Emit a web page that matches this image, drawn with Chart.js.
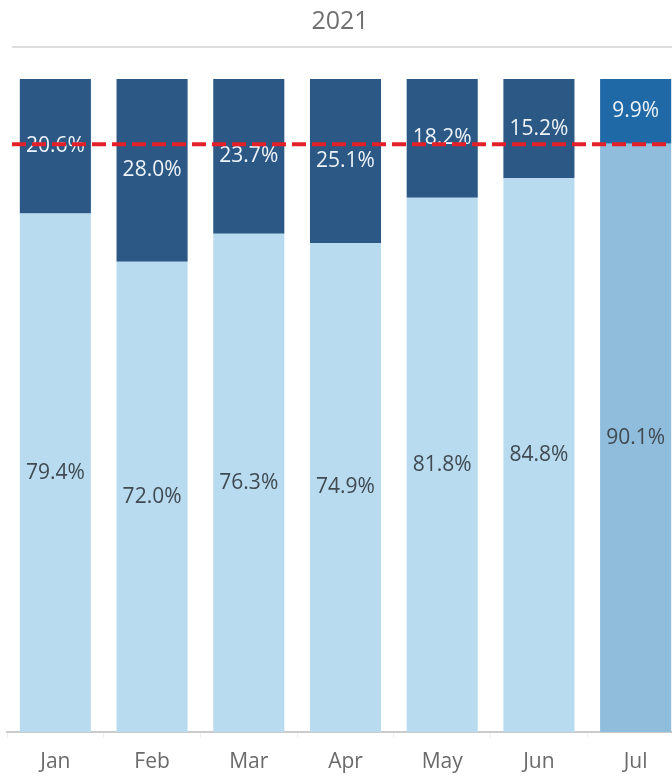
<!DOCTYPE html>
<html lang="en">
<head>
    <meta charset="UTF-8">
    <title>2021</title>
    <style>
        html, body {
            margin: 0;
            padding: 0;
            background: #ffffff;
            overflow: hidden;
        }
        .chart-box {
            position: absolute;
            left: 0;
            top: 0;
            width: 684px;
            height: 777px;
        }
    </style>
</head>
<body>
    <div class="chart-box">
        <canvas id="monthChart"></canvas>
    </div>

    <script src="https://cdn.jsdelivr.net/npm/chart.js@4.4.3/dist/chart.umd.min.js"></script>
    <script>
        // Datos
        const months = ['Jan', 'Feb', 'Mar', 'Apr', 'May', 'Jun', 'Jul'];
        const lowerShare = [79.4, 72.0, 76.3, 74.9, 81.8, 84.8, 90.1];
        const upperShare = [20.6, 28.0, 23.7, 25.1, 18.2, 15.2, 9.9];
        const targetLine = 90;
        const chartTitle = '2021';

        // Jul va resaltado con otros tonos
        const lowerColors = months.map((m, i) => i === months.length - 1 ? '#90bddc' : '#b8dbef');
        const upperColors = months.map((m, i) => i === months.length - 1 ? '#1f6aa6' : '#2b5885');

        const FONT = "'Open Sans', 'Noto Sans', sans-serif";

        const ctx = document.getElementById('monthChart').getContext('2d');
        new Chart(ctx, {
            type: 'bar',
            data: {
                labels: months,
                datasets: [{
                    label: 'lower',
                    data: lowerShare,
                    backgroundColor: lowerColors,
                    labelColor: '#404a52',
                    barPercentage: 0.735,
                    categoryPercentage: 1
                }, {
                    label: 'upper',
                    data: upperShare,
                    backgroundColor: upperColors,
                    labelColor: '#eef3f8',
                    barPercentage: 0.735,
                    categoryPercentage: 1
                }]
            },
            options: {
                responsive: true,
                maintainAspectRatio: false,
                animation: false,
                layout: {
                    padding: { top: 79, left: 7, right: 0, bottom: 0 }
                },
                plugins: {
                    legend: { display: false },
                    tooltip: { enabled: false }
                },
                scales: {
                    x: {
                        stacked: true,
                        afterFit: (scale) => { scale.height = 45; },
                        border: { display: true, color: '#cbcbcb', width: 2 },
                        grid: {
                            display: true,
                            drawOnChartArea: false,
                            drawTicks: true,
                            tickLength: 6,
                            color: '#f1f1f1'
                        },
                        ticks: {
                            color: '#6a6a6a',
                            padding: 11,
                            font: { family: FONT, size: 21, weight: 400 }
                        }
                    },
                    y: {
                        stacked: true,
                        display: false,
                        min: 0,
                        max: 100
                    }
                }
            },
            plugins: [{
                id: 'segmentLabels',
                afterDatasetsDraw: (chart) => {
                    const c = chart.ctx;
                    c.save();
                    c.font = '400 21px ' + FONT;
                    c.textAlign = 'center';
                    c.textBaseline = 'middle';
                    chart.data.datasets.forEach((ds, di) => {
                        chart.getDatasetMeta(di).data.forEach((bar, i) => {
                            const mid = (bar.y + bar.base) / 2;
                            c.fillStyle = ds.labelColor;
                            c.fillText(ds.data[i].toFixed(1) + '%', bar.x, mid);
                        });
                    });
                    c.restore();
                }
            }, {
                id: 'titleAndTarget',
                afterDraw: (chart) => {
                    const c = chart.ctx;
                    c.save();
                    // título y línea divisoria
                    c.fillStyle = '#707070';
                    c.font = '400 25px ' + FONT;
                    c.textAlign = 'center';
                    c.textBaseline = 'middle';
                    c.fillText(chartTitle, 340, 22);
                    c.strokeStyle = '#d2d2d2';
                    c.lineWidth = 1.5;
                    c.beginPath();
                    c.moveTo(12, 47);
                    c.lineTo(chart.width, 47);
                    c.stroke();

                    // línea meta roja punteada
                    const y = chart.scales.y.getPixelForValue(targetLine);
                    c.strokeStyle = '#e3202a';
                    c.lineWidth = 4;
                    c.setLineDash([14, 6]);
                    c.beginPath();
                    c.moveTo(12, y);
                    c.lineTo(chart.width, y);
                    c.stroke();
                    c.restore();
                }
            }]
        });
    </script>
</body>
</html>
